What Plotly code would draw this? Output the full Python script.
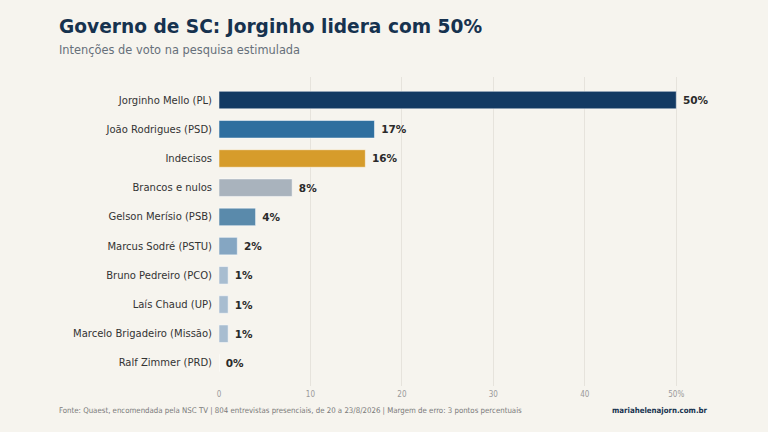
import plotly.graph_objects as go

candidates = [
    "Jorginho Mello (PL)",
    "João Rodrigues (PSD)",
    "Indecisos",
    "Brancos e nulos",
    "Gelson Merísio (PSB)",
    "Marcus Sodré (PSTU)",
    "Bruno Pedreiro (PCO)",
    "Laís Chaud (UP)",
    "Marcelo Brigadeiro (Missão)",
    "Ralf Zimmer (PRD)",
]
votes = [50, 17, 16, 8, 4, 2, 1, 1, 1, 0]

tick_vals = [0, 10, 20, 30, 40, 50]
tick_text = ["0", "10", "20", "30", "40", "50%"]

# bar colours, same order as candidates
colors = ["#133a63", "#2f6f9f", "#d69c2b", "#a9b3bd", "#5a8aab",
          "#85a6c2", "#a8bdd0", "#a8bdd0", "#a8bdd0", "#a8bdd0"]

bg = "#f6f4ee"
L, R, T, B = 219, 46, 77, 46

fig = go.Figure(go.Bar(
    x=votes,
    y=candidates,
    orientation="h",
    marker=dict(color=colors, line=dict(color="rgba(255,255,255,0.5)", width=1)),
    width=0.6,
    text=[f"\u00a0{v}%" for v in votes],
    textposition="outside",
    textfont=dict(family="DejaVu Sans", size=10.5, color="#2a2a2a", weight="bold"),
    cliponaxis=False,
    hoverinfo="skip",
))

fig.update_layout(
    width=768, height=432,
    paper_bgcolor=bg, plot_bgcolor=bg,
    margin=dict(l=L, r=R, t=T, b=B),
    showlegend=False,
    font=dict(family="DejaVu Sans"),
    xaxis=dict(
        range=[0, 55],
        tickvals=tick_vals, ticktext=tick_text,
        tickfont=dict(family="DejaVu Sans Condensed", size=8, color="#9a9a9a"),
        showgrid=True, gridcolor="#e6e3dc", gridwidth=1,
        zeroline=False, showline=False, ticks="", ticklabelstandoff=2,
    ),
    yaxis=dict(
        categoryorder="array", categoryarray=candidates[::-1],
        range=[-0.79, 9.79],
        tickfont=dict(family="DejaVu Sans", size=10, color="#333333"),
        showgrid=False, zeroline=False, showline=False,
        ticks="outside", ticklen=4, tickcolor=bg,
    ),
)

annotations = [
    dict(text="<b>Governo de SC: Jorginho lidera com 50%</b>", x=57, y=26,
         font=dict(size=18.6, color="#16324f")),
    dict(text="Intenções de voto na pesquisa estimulada", x=57, y=50,
         font=dict(size=11.4, color="#66707a")),
    dict(text="Fonte: Quaest, encomendada pela NSC TV | 804 entrevistas presenciais, de 20 a 23/8/2026 | Margem de erro: 3 pontos percentuais",
         x=57, y=410, font=dict(family="DejaVu Sans Condensed", size=7.8, color="#7a7a7a")),
    dict(text="<b>mariahelenajorn.com.br</b>", x=710, y=410, xanchor="right",
         font=dict(family="DejaVu Sans Condensed", size=7.8, color="#16324f")),
]
plot_w = 768 - L - R
plot_h = 432 - T - B
for a in annotations:
    fig.add_annotation(
        text=a["text"], xref="paper", yref="paper",
        x=(a["x"] - L) / plot_w, y=1 - (a["y"] - T) / plot_h,
        xanchor=a.get("xanchor", "left"), yanchor="middle",
        showarrow=False, font=a["font"],
    )

fig.write_html("out.html", config={"displayModeBar": False},
               post_script="document.body.style.margin='0';")
